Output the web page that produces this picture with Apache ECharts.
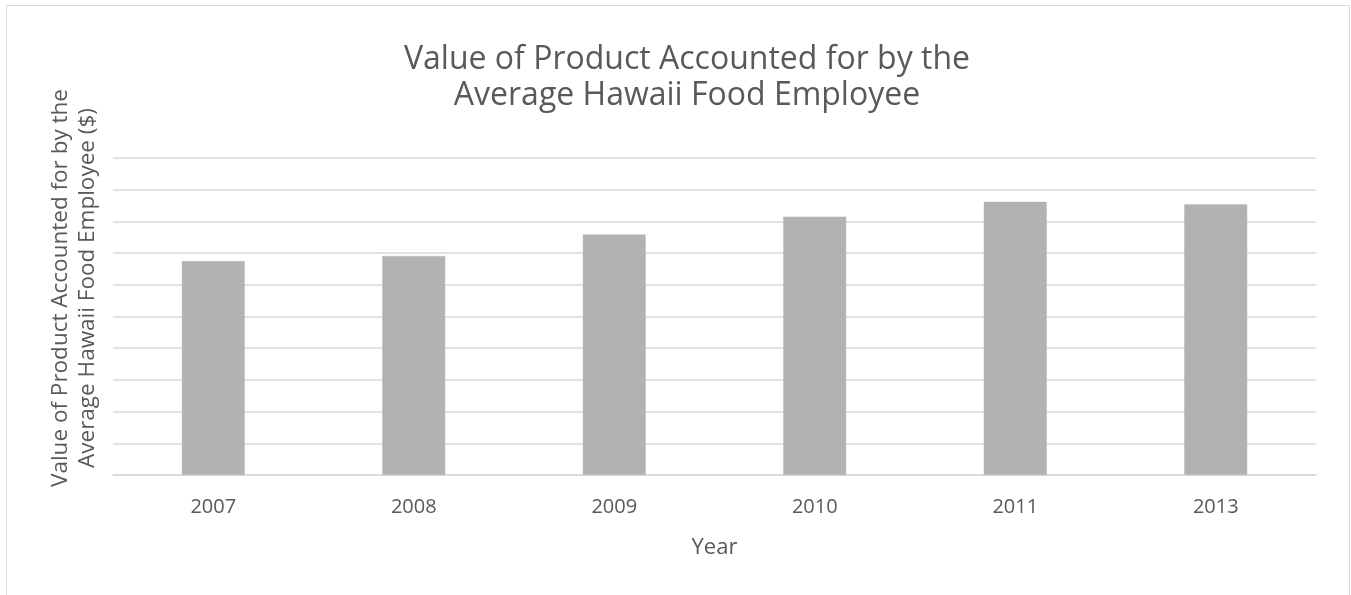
<!DOCTYPE html>
<html>
<head>
<meta charset="utf-8">
<script src="https://cdn.jsdelivr.net/npm/echarts@6/dist/echarts.min.js"></script>
<style>
  html, body { margin: 0; padding: 0; background: #fff; }
  #chart { width: 1351px; height: 595px; }
</style>
</head>
<body>
<div id="chart"></div>
<script>
// Value of product per average Hawaii food-industry employee, by year ($)
const years = ['2007', '2008', '2009', '2010', '2011', '2013'];
const valuePerEmployee = [135000, 138200, 151800, 163000, 172400, 170800];

const axisMax = 200000;
const axisInterval = 20000;

const textColor = '#595959';
const gridColor = '#d9d9d9';
const barColor = '#b2b2b2';
const fontFamily = '"Open Sans", "Noto Sans", sans-serif';

const chart = echarts.init(document.getElementById('chart'), null, { renderer: 'canvas' });

chart.setOption({
  animation: false,
  backgroundColor: '#ffffff',
  textStyle: { fontFamily: fontFamily },
  title: {
    text: 'Value of Product Accounted for by the\nAverage Hawaii Food Employee',
    left: 682,
    top: 37,
    textAlign: 'center',
    textStyle: {
      fontFamily: fontFamily,
      fontSize: 32,
      fontWeight: 'normal',
      color: textColor,
      lineHeight: 36
    }
  },
  graphic: [
    {
      // outer chart frame
      type: 'rect',
      shape: { x: 6.5, y: 5.5, width: 1343, height: 600 },
      style: { fill: 'none', stroke: gridColor, lineWidth: 1 },
      silent: true,
      z: -1
    },
    {
      // vertical axis title, centred a little above the plot's middle
      type: 'text',
      x: 74,
      y: 288,
      rotation: Math.PI / 2,
      style: {
        text: 'Value of Product Accounted for by the\nAverage Hawaii Food Employee ($)',
        fontFamily: fontFamily,
        fontSize: 22.5,
        lineHeight: 27,
        fill: textColor,
        align: 'center',
        verticalAlign: 'middle'
      },
      silent: true
    }
  ],
  grid: {
    left: 113,
    right: 35,
    top: 158,
    bottom: 120,
    containLabel: false
  },
  xAxis: {
    type: 'category',
    data: years,
    name: 'Year',
    nameLocation: 'middle',
    nameGap: 62,
    nameTextStyle: { fontFamily: fontFamily, fontSize: 22, color: textColor },
    axisLine: { show: true, lineStyle: { color: gridColor, width: 1.5 } },
    axisTick: { show: false },
    axisLabel: { fontFamily: fontFamily, fontSize: 20, color: textColor, margin: 22 }
  },
  yAxis: {
    type: 'value',
    min: 0,
    max: axisMax,
    interval: axisInterval,
    axisLine: { show: false },
    axisTick: { show: false },
    axisLabel: { show: false },
    splitLine: { show: true, lineStyle: { color: gridColor, width: 1.5 } }
  },
  series: [{
    type: 'bar',
    data: valuePerEmployee,
    barWidth: 63,
    itemStyle: { color: barColor, borderColor: '#bdbdbd', borderWidth: 0.5 }
  }]
});
</script>
</body>
</html>
